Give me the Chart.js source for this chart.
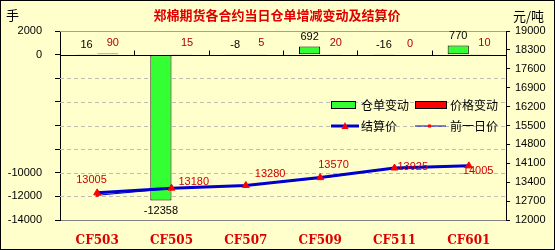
<!DOCTYPE html>
<html>
<head>
<meta charset="utf-8">
<script src="https://cdn.jsdelivr.net/npm/chart.js@4.4.1/dist/chart.umd.min.js"></script>
<style>
  html, body { margin: 0; padding: 0; background: #ffffcc; }
  #box { width: 555px; height: 250px; }
</style>
</head>
<body>
<div id="box"><canvas id="cf_chart" width="555" height="250"></canvas></div>
<script>
// values
const categories = ['CF503', 'CF505', 'CF507', 'CF509', 'CF511', 'CF601'];
const warrantChange = [16, -12358, -8, 692, -16, 770];     // 仓单变动 (手)
const priceChange = [90, 15, 5, 20, 0, 10];                // 价格变动
const settlePrice = [13005, 13180, 13280, 13570, 13925, 14005]; // 结算价
const prevPrice = [12915, 13165, 13275, 13550, 13925, 13995];   // 前一日价
const leftTicks = [2000, 0, -2000, -4000, -6000, -8000, -10000, -12000, -14000];
const leftTickLabels = ['2000', '0', '', '', '', '', '-10000', '-12000', '-14000'];
const rightTicks = [19000, 18300, 17600, 16900, 16200, 15500, 14800, 14100, 13400, 12700, 12000];

// label nudges for the settlement price texts (x from point, y from point)
const priceLabelOffset = [[-21, -13], [7, -6], [9, -11], [-2, -13], [3, -1], [-6, 5]];

const ctx = document.getElementById('cf_chart').getContext('2d');
const numFont = '11px "Liberation Sans", Arial, sans-serif';
const cjk = '"Noto Sans CJK SC", sans-serif';

const frame = {
    id: 'frame',
    beforeDraw(chart) {
        const c = chart.ctx;
        c.save();
        c.fillStyle = '#ffffcc';
        c.fillRect(0, 0, chart.width, chart.height);
        c.restore();
    },
    beforeDatasetsDraw(chart) {
        const c = chart.ctx, a = chart.chartArea, y = chart.scales.y;
        c.save();
        // dashed grid
        c.strokeStyle = '#bdbdb0';
        c.lineWidth = 1;
        c.setLineDash([4, 3]);
        leftTicks.forEach(v => {
            if (v === 0 || v === leftTicks[0] || v === leftTicks[leftTicks.length - 1]) return;
            const py = Math.round(y.getPixelForValue(v)) + 0.5;
            c.beginPath(); c.moveTo(a.left, py); c.lineTo(a.right, py); c.stroke();
        });
        c.setLineDash([]);
        // top border
        c.strokeStyle = '#a0a0a0';
        c.beginPath(); c.moveTo(a.left, a.top + 0.5); c.lineTo(a.right, a.top + 0.5); c.stroke();
        // zero line with category ticks
        const zy = Math.round(y.getPixelForValue(0)) + 0.5;
        c.strokeStyle = '#000';
        c.beginPath(); c.moveTo(a.left, zy); c.lineTo(a.right, zy); c.stroke();
        const w = (a.right - a.left) / categories.length;
        for (let i = 1; i < categories.length; i++) {
            const px = Math.round(a.left + i * w) + 0.5;
            c.beginPath(); c.moveTo(px, zy); c.lineTo(px, zy - 5); c.stroke();
        }
        c.restore();
    },
    afterDatasetsDraw(chart) {
        const c = chart.ctx;
        const green = chart.getDatasetMeta(0).data;
        const red = chart.getDatasetMeta(1).data;
        const line = chart.getDatasetMeta(2).data;
        c.save();
        c.font = numFont;
        c.textAlign = 'center';
        green.forEach((b, i) => {
            c.fillStyle = '#000';
            if (warrantChange[i] < 0 && Math.abs(b.y - b.base) > 20) {
                c.textBaseline = 'top';
                c.fillText(String(warrantChange[i]), b.x, b.y + 5);
            } else {
                c.textBaseline = 'bottom';
                c.fillText(String(warrantChange[i]), b.x, Math.min(b.y, b.base) - 4);
            }
        });
        red.forEach((b, i) => {
            c.fillStyle = '#b00000';
            c.textBaseline = 'middle';
            c.fillText(String(priceChange[i]), b.x + 5, b.base - 11);
        });
        c.textAlign = 'left';
        line.forEach((p, i) => {
            c.fillStyle = '#d00000';
            c.textBaseline = 'middle';
            c.fillText(String(settlePrice[i]), p.x + priceLabelOffset[i][0], p.y + priceLabelOffset[i][1]);
        });
        c.restore();
    },
    afterDraw(chart) {
        const c = chart.ctx;
        c.save();
        // title and units
        c.fillStyle = '#e00000';
        c.font = 'bold 13px ' + cjk;
        c.textAlign = 'center';
        c.textBaseline = 'middle';
        c.fillText('郑棉期货各合约当日仓单增减变动及结算价', 277, 15);
        c.fillStyle = '#000';
        c.font = '13px ' + cjk;
        c.textAlign = 'left';
        c.fillText('手', 6, 15);
        c.fillText('元/吨', 513, 16);
        // legend
        const ly1 = 105, ly2 = 126, lx1 = 331, lx2 = 415;
        c.font = '12px ' + cjk;
        c.fillStyle = '#33ff33';
        c.fillRect(lx1, ly1 - 3.5, 24, 7);
        c.strokeStyle = '#000';
        c.lineWidth = 1;
        c.strokeRect(lx1 + 0.5, ly1 - 3.5, 24, 7);
        c.fillStyle = '#000';
        c.fillText('仓单变动', lx1 + 30, ly1);
        c.fillStyle = '#ff0000';
        c.fillRect(lx2, ly1 - 3.5, 31, 7);
        c.strokeRect(lx2 + 0.5, ly1 - 3.5, 31, 7);
        c.fillStyle = '#000';
        c.fillText('价格变动', lx2 + 35, ly1);
        c.strokeStyle = '#0000cc';
        c.lineWidth = 3;
        c.beginPath(); c.moveTo(lx1, ly2); c.lineTo(lx1 + 28, ly2); c.stroke();
        c.fillStyle = '#ff0000';
        c.beginPath(); c.moveTo(lx1 + 14, ly2 - 4); c.lineTo(lx1 + 17.5, ly2 + 3); c.lineTo(lx1 + 10.5, ly2 + 3); c.closePath(); c.fill();
        c.fillStyle = '#000';
        c.fillText('结算价', lx1 + 30, ly2);
        c.strokeStyle = '#0000cc';
        c.lineWidth = 1;
        c.beginPath(); c.moveTo(lx2, ly2); c.lineTo(lx2 + 31, ly2); c.stroke();
        c.fillStyle = '#ff0000';
        c.fillRect(lx2 + 13, ly2 - 1.5, 3, 3);
        c.fillStyle = '#000';
        c.fillText('前一日价', lx2 + 35, ly2);
        // outer border
        c.strokeStyle = '#000';
        c.lineWidth = 1;
        c.strokeRect(0.5, 0.5, chart.width - 1, chart.height - 1);
        c.restore();
    }
};

const cf_chart = new Chart(ctx, {
    data: {
        labels: categories,
        datasets: [
            {
                type: 'bar',
                label: '仓单变动',
                data: warrantChange,
                yAxisID: 'y',
                backgroundColor: '#33ff33',
                borderColor: '#000',
                borderWidth: 1,
                borderSkipped: false,
                categoryPercentage: 0.57,
                barPercentage: 1,
                order: 2
            },
            {
                type: 'bar',
                label: '价格变动',
                data: priceChange,
                yAxisID: 'y',
                backgroundColor: '#ff0000',
                borderColor: '#000',
                borderWidth: 1,
                borderSkipped: false,
                categoryPercentage: 0.57,
                barPercentage: 1,
                order: 2
            },
            {
                type: 'line',
                label: '结算价',
                data: settlePrice,
                yAxisID: 'y1',
                borderColor: '#0000cc',
                borderWidth: 3,
                pointStyle: 'triangle',
                pointRadius: 4,
                pointBackgroundColor: '#ff0000',
                pointBorderColor: '#ff0000',
                pointBorderWidth: 1,
                tension: 0,
                order: 0
            },
            {
                type: 'line',
                label: '前一日价',
                data: prevPrice,
                yAxisID: 'y1',
                borderColor: '#0000cc',
                borderWidth: 1,
                pointStyle: 'rect',
                pointRadius: 1.5,
                pointBackgroundColor: '#ff0000',
                pointBorderColor: '#ff0000',
                tension: 0,
                order: 1
            }
        ]
    },
    options: {
        responsive: false,
        animation: false,
        layout: { padding: { top: 31, left: 0, right: 0, bottom: 0 } },
        plugins: {
            legend: { display: false },
            tooltip: { enabled: false }
        },
        scales: {
            x: {
                offset: true,
                grid: { display: false },
                border: { color: '#808080' },
                ticks: {
                    color: '#dd0000',
                    font: { family: '"DejaVu Serif", serif', weight: 'bold', size: 12 },
                    padding: 6
                },
                afterFit(s) { s.height = 30; }
            },
            y: {
                position: 'left',
                min: -14000,
                max: 2000,
                afterBuildTicks(s) { s.ticks = leftTicks.map(v => ({ value: v })); },
                grid: { drawOnChartArea: false, tickLength: 5, color: '#000' },
                border: { color: '#000' },
                ticks: {
                    color: '#000',
                    font: { family: '"Liberation Sans", Arial', size: 11 },
                    padding: 13,
                    callback: (v, i) => leftTickLabels[i]
                },
                afterFit(s) { s.width = 60; }
            },
            y1: {
                position: 'right',
                min: 12000,
                max: 19000,
                afterBuildTicks(s) { s.ticks = rightTicks.map(v => ({ value: v })); },
                grid: { drawOnChartArea: false, tickLength: 4, color: '#000' },
                border: { color: '#000' },
                ticks: {
                    color: '#000',
                    font: { family: '"Liberation Sans", Arial', size: 11 },
                    padding: 5,
                    callback: v => String(v)
                },
                afterFit(s) { s.width = 49; }
            }
        }
    },
    plugins: [frame]
});
</script>
</body>
</html>
